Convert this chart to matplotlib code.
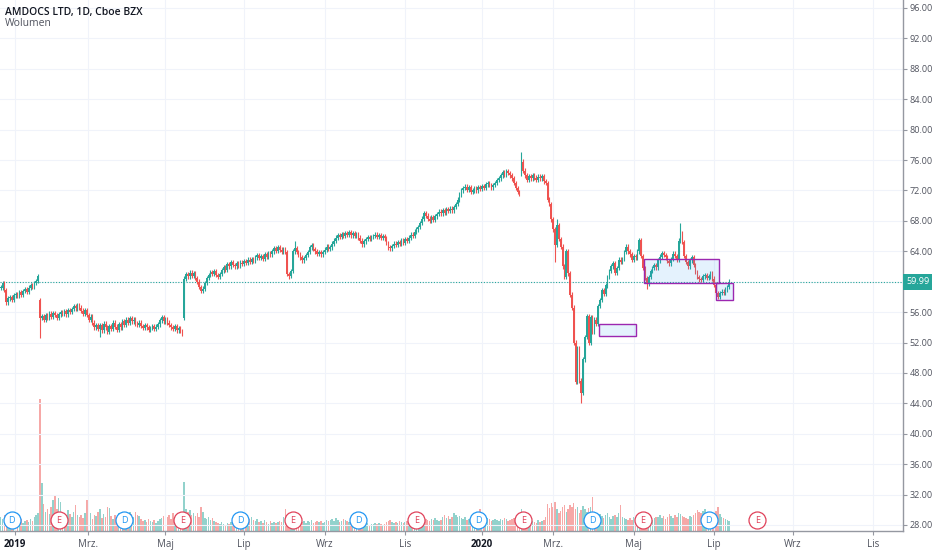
import numpy as np
import matplotlib.pyplot as plt
from matplotlib.patches import Rectangle
from matplotlib import transforms

plt.rcParams['font.family'] = ['Open Sans', 'DejaVu Sans']

# daily closes, bar -5 (late Dec 2018) .. bar 384 (mid Jul 2020)
closes = [
    59.2, 59.8, 58.9, 57.3, 57.8,
    58.0, 57.6, 58.2, 58.4, 58.1, 58.6, 58.3, 58.8, 59.0, 58.7, 59.2, 59.5, 59.3, 59.8, 60.1, 60.7,
    55.2,
    55.5, 55.0, 55.6, 55.3, 55.8, 55.4, 55.9, 55.6, 55.2, 55.7, 56.0,
    55.8, 56.1, 55.7, 56.3, 56.0, 56.4, 56.8, 56.5, 56.9,
    56.6, 56.2, 55.8, 56.3, 55.6, 55.0, 55.4, 54.6, 54.0, 54.3, 53.8,
    54.3, 53.6, 54.5, 54.0, 53.4, 54.2, 53.8, 54.6, 54.1, 53.7, 54.4, 54.0, 54.8, 54.3, 55.0, 54.6,
    55.2, 54.8, 55.0, 54.5, 54.3, 54.6,
    54.2, 53.9, 54.3, 54.0, 53.7, 53.9, 54.2, 53.8, 54.1, 54.4,
    54.9, 55.3, 54.8, 55.1, 54.6,
    54.3, 54.0, 53.8, 54.2, 53.6, 53.9, 53.5, 53.2,
    60.4,
    61.0, 60.7, 61.2, 60.8, 61.1,
    60.5, 60.0, 59.3, 58.8, 59.1,
    59.8, 60.5, 60.9, 61.3, 61.0,
    61.4, 60.9, 60.6, 61.0,
    61.5, 61.9, 61.6, 62.3, 62.0, 62.6,
    62.2, 62.0, 62.4, 62.1, 62.5, 62.3,
    62.7, 62.5, 62.9, 62.6, 63.0, 62.8,
    63.2, 63.5, 63.1, 63.4, 63.0, 63.6, 63.3,
    63.8, 63.6, 64.0, 64.4, 64.1, 64.5, 64.2, 63.9, 64.3,
    63.9, 61.0, 60.8,
    61.4, 64.0, 64.4,
    63.9, 63.6, 63.2, 62.8, 63.1,
    63.5, 63.9, 64.5, 64.8,
    64.3, 64.0, 63.7, 63.9,
    63.6, 63.9, 64.2, 64.6, 64.3,
    64.5, 65.0, 65.4, 65.8, 66.1, 65.9,
    66.3, 66.0, 66.4, 66.2, 66.5,
    66.1, 66.4, 66.0, 66.3, 65.8,
    65.4, 64.9, 65.3,
    65.6, 65.9, 65.6, 65.9, 66.0,
    66.2, 65.9, 66.1, 65.8, 66.0,
    65.7, 65.1, 64.5, 64.4,
    64.7, 65.0, 64.8, 65.2,
    65.0, 65.4, 65.1, 65.6, 65.4,
    65.8, 66.2, 66.0, 66.6, 66.9,
    67.2, 67.7, 68.3, 69.0,
    68.7, 68.3, 68.0, 68.5, 68.1, 68.6, 68.9, 69.2,
    69.0, 69.4, 69.1, 69.5, 69.3, 69.6, 69.4, 69.8, 70.2,
    70.8, 71.5, 72.0, 72.3,
    72.5, 72.1, 72.4, 71.8, 72.0, 72.3, 72.0,
    72.4, 72.2, 72.6, 72.3, 72.8, 73.0,
    72.7, 72.4, 72.7, 73.0, 73.4, 73.6,
    74.0, 74.4, 74.1, 74.5, 74.3,
    74.0, 73.6, 73.0, 72.3, 71.8, 71.6,
    75.8,
    74.6, 74.0, 73.4, 73.9, 73.6, 74.0, 73.7, 73.4, 73.8, 73.6, 73.9, 73.2,
    73.0, 70.8, 70.2, 68.2, 66.9,
    64.8, 67.4, 65.6, 64.6, 62.0, 60.6, 64.0, 61.1, 58.3, 56.6,
    52.0, 46.8, 51.3, 47.0, 45.4, 49.8, 52.7, 55.5, 52.0, 55.3,
    53.4, 55.0, 54.5, 56.8, 57.6, 58.9, 58.4, 59.5, 60.6, 61.4,
    62.0, 62.4, 61.2, 61.8, 62.9, 62.6, 63.0, 63.9, 64.6, 64.0,
    63.6, 62.9, 63.4, 63.2, 64.0, 65.5, 63.4, 61.8, 60.5, 59.7,
    60.6, 61.4, 61.8, 62.2, 61.9, 62.8, 63.3, 63.8, 63.5, 63.2,
    62.7, 62.4, 63.0, 63.7, 63.4, 62.9, 65.4, 66.4, 65.2, 63.4,
    62.6, 62.0, 62.8, 63.2, 62.2, 61.3, 60.6, 60.3, 60.2, 60.7,
    60.9, 60.5, 60.7, 61.1, 60.4, 59.6, 58.5, 58.0, 58.5, 58.7,
    58.5, 59.0, 59.3, 59.99,
]
first_bar = -5

# opens that gap away from the previous close
gap_opens = {16: 57.6, 93: 55.2, 273: 74.2}
# notable wick extremes
wick_highs = {93: 60.8, 152: 65.3, 273: 77.1, 292: 68.2, 358: 67.7}
wick_lows = {16: 52.6, 48: 52.7, 93: 55.0, 149: 60.3, 291: 62.6, 305: 44.1, 340: 59.1}

# volume, thousands of shares
volumes = [
    560, 480, 640, 440, 520,
    400, 360, 440, 320, 400, 360, 480, 320, 400, 440, 360, 480, 400, 560, 640, 720,
    5300, 1920, 1080, 760, 880,
    700, 980, 1240, 1400, 880, 1320, 1160,
    600, 720, 520, 840, 680, 560,
    760, 1040, 640, 560,
    640, 520, 720, 1240,
    560, 720, 480, 640, 600, 760, 880,
    520, 680, 560, 960, 920, 600,
    480, 640, 560, 720, 520, 440, 600, 680, 560, 760,
    680, 560, 760, 640, 600, 480,
    400, 440, 360, 480, 400, 360, 440, 320, 400, 480,
    520, 600, 440, 560, 640, 480, 720, 560, 520, 640, 600, 680,
    1960,
    880, 760, 840, 640, 720,
    600, 720, 560, 960, 760, 520,
    480, 560, 440, 520, 400, 360,
    320, 280, 360, 300, 240, 320, 280, 360, 300, 340, 280, 320, 360, 300, 280,
    440, 520, 480, 560, 440, 400, 480,
    360, 400, 320, 440, 360, 300, 400, 340, 380, 320, 360, 420, 380, 560, 880, 640, 520, 480,
    400, 360, 440, 320, 380, 360, 420, 340, 400, 360, 440, 320, 380, 420, 360, 400, 340, 380, 440, 400,
    440, 480, 400, 520, 440, 360, 400, 480, 440, 400, 360, 440, 400, 360, 320,
    280, 320, 360, 300, 280, 320, 260, 300, 280, 340, 300, 320, 280, 260, 300,
    360, 400, 440, 360, 320, 380, 340, 400, 360, 320, 380, 420, 360, 340, 400,
    440, 520, 480, 560, 600, 520, 480, 440, 400, 480, 440, 520, 460, 400, 440,
    560, 640, 520, 600, 480, 560, 720, 640, 560, 600, 520, 480, 560, 440, 480,
    440, 480, 400, 520, 560, 880, 600, 480, 440, 520, 480, 400, 440, 480, 440,
    400, 480, 440, 520, 480, 400, 440, 480, 520, 560, 600, 640, 880, 640, 560,
    400, 360, 320, 400, 360, 320, 440, 360, 400, 440, 560,
    1080, 920, 1120, 960, 1160, 880, 720, 800, 960, 1040, 760, 880, 1040, 960,
    1120, 880, 960, 720, 840, 1000, 880, 760, 920, 960, 1360, 720, 640, 560, 680,
    600, 520, 640, 720, 560, 480, 600, 640, 560, 720, 1040, 560, 520, 480, 440,
    520, 440, 560, 480, 600, 520, 640, 560, 480, 520, 600, 480, 440, 520, 560,
    560, 640, 520, 600, 480, 560, 680, 600, 520, 640, 560, 720, 680, 600, 560,
    520, 480, 600, 560, 640, 720, 840, 760, 720, 800, 880, 760, 720, 680, 640,
    720, 800, 960, 680, 560, 520, 480, 440, 400,
]

month_labels = ['2019', 'Mrz.', 'Maj', 'Lip', 'Wrz', 'Lis', '2020', 'Mrz.', 'Maj', 'Lip', 'Wrz', 'Lis']
month_bars = [2.5, 41.5, 83, 125, 168, 211, 252, 290, 333, 376, 418, 461]
dividend_bars = [1, 61, 123, 186, 250, 311, 373]
earnings_bars = [26, 92, 151, 217, 274, 338, 399]
# drawn zones: (start bar, end bar, low, high)
zones = [(314.3, 334.0, 52.8, 54.4), (338.5, 378.4, 59.8, 62.95), (377.0, 386.0, 57.55, 59.8)]
last_price = 59.99

UP, DOWN = '#26a69a', '#ef5350'

c = np.array(closes)
bars = np.arange(len(c)) + first_bar
o = np.r_[c[0], c[:-1]]
for b, v in gap_opens.items():
    o[b - first_bar] = v
hi = np.maximum(o, c) + 0.3
lo = np.minimum(o, c) - 0.3
for b, v in wick_highs.items():
    hi[b - first_bar] = v
for b, v in wick_lows.items():
    lo[b - first_bar] = v
up = c >= o
cols = np.where(up, UP, DOWN)

fig = plt.figure(figsize=(9.32, 5.5), dpi=100)
ax = fig.add_axes([0, 19 / 550, 903 / 932, 531 / 550])
axv = ax.twinx()
ax.set_zorder(2)
ax.patch.set_visible(False)

# volume underneath
vcols = [(0.149, 0.651, 0.604, 0.5) if u else (0.937, 0.325, 0.314, 0.5) for u in up]
axv.bar(bars, volumes, width=0.8, color=vcols, linewidth=0)
axv.set_ylim(0, 531 * 40)
axv.set_yticks([])
for s in axv.spines.values():
    s.set_visible(False)

# grid
yticks = [t for t in range(28, 97, 4) if t != 60]
for t in range(28, 97, 4):
    ax.axhline(t, color='#f0f3fa', lw=0.8, zorder=0)
for m in month_bars:
    ax.axvline(m, color='#f0f3fa', lw=0.8, zorder=0)

# candles
ax.vlines(bars, lo, hi, colors=cols, lw=0.8, zorder=3)
ax.bar(bars, np.maximum(np.abs(c - o), 0.15), bottom=np.minimum(o, c), width=0.85,
       color=cols, linewidth=0, zorder=3)

# zones
for x0, x1, y0, y1 in zones:
    ax.add_patch(Rectangle((x0, y0), x1 - x0, y1 - y0, facecolor=(0.13, 0.59, 0.95, 0.12),
                           edgecolor='#9c27b0', lw=1.0, zorder=4))

# last price line + label
ax.axhline(last_price, color=UP, lw=0.8, ls=(0, (1, 1.5)), zorder=2)
blend_y = transforms.blended_transform_factory(ax.transAxes, ax.transData)
ax.annotate(f'{last_price:.2f}', xy=(1, last_price), xycoords=blend_y, xytext=(2.6, 0),
            textcoords='offset points', ha='left', va='center', color='white', fontsize=6.5,
            bbox=dict(boxstyle='square,pad=0.4', fc=UP, ec='none'), annotation_clip=False, zorder=10)

# dividend / earnings markers
blend_x = transforms.blended_transform_factory(ax.transData, ax.transAxes)
for xs, letter, col in [(dividend_bars, 'D', '#2196f3'), (earnings_bars, 'E', '#e0415a')]:
    ax.scatter(xs, [0.0207] * len(xs), s=150, facecolor='white', edgecolor=col, lw=0.9,
               transform=blend_x, zorder=6, clip_on=False)
    for x in xs:
        ax.text(x, 0.0207, letter, transform=blend_x, ha='center', va='center', fontsize=6.5,
                color=col, zorder=7)

ax.set_xlim(-5.34, 476.8)
ax.set_ylim(27.21, 97.05)

ax.yaxis.tick_right()
ax.set_yticks(yticks, [f'{t:.2f}' for t in yticks])
ax.tick_params(axis='y', labelsize=6.5, colors='#9598a1', labelcolor='#50535e', length=3, width=0.8, pad=1.5)
ax.set_xticks(month_bars, month_labels)
ax.tick_params(axis='x', labelsize=7, colors='#9598a1', labelcolor='#50535e', length=3, width=0.8, pad=3)
for lab in ax.get_xticklabels():
    if lab.get_text().isdigit():
        lab.set_fontweight('bold')
        lab.set_color('#131722')

for side in ['top', 'left']:
    ax.spines[side].set_visible(False)
for side in ['right', 'bottom']:
    ax.spines[side].set_color('#9598a1')
    ax.spines[side].set_linewidth(1.0)

fig.text(5 / 932, 1 - 13 / 550, 'AMDOCS LTD, 1D, Cboe BZX', fontsize=7.5, color='#131722',
         fontweight='semibold', va='center')
fig.text(5 / 932, 1 - 23 / 550, 'Wolumen', fontsize=7.5, color='#50535e', va='center')

fig.savefig('out.png', dpi=100)
